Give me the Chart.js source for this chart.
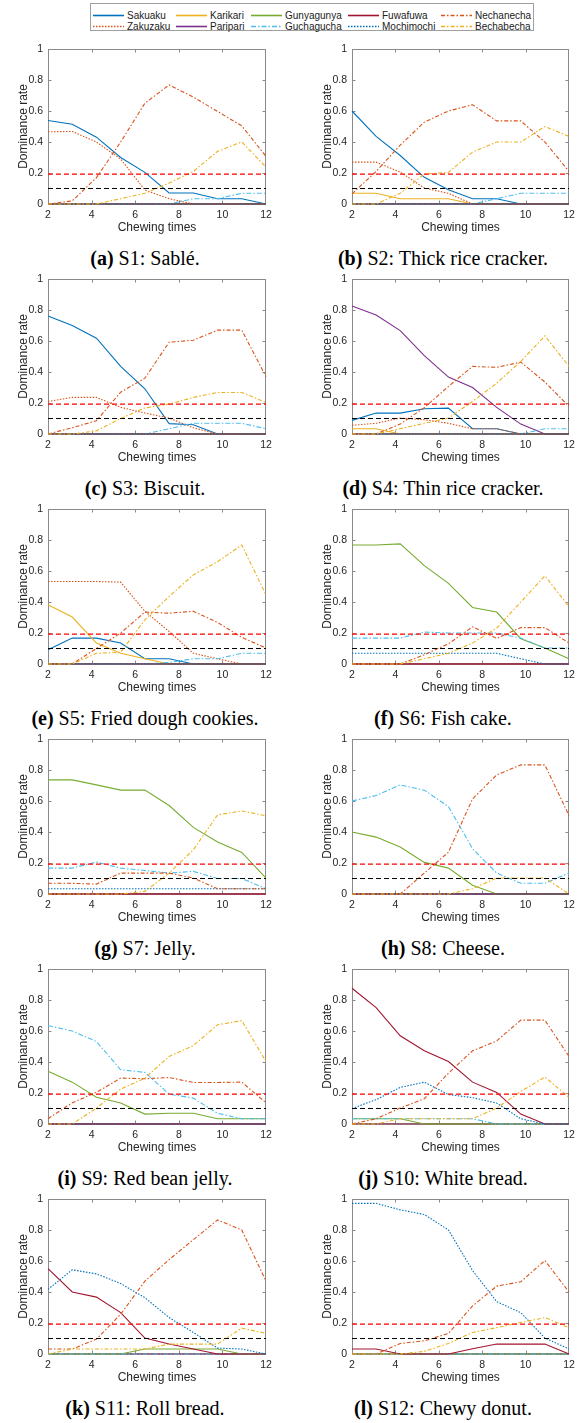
<!DOCTYPE html>
<html><head><meta charset="utf-8">
<script src="https://cdn.jsdelivr.net/npm/chart.js@4.4.1/dist/chart.umd.min.js"></script>
<style>
html,body{margin:0;padding:0;background:#fff;}
body{width:581px;height:1423px;position:relative;overflow:hidden;font-family:"Liberation Sans",Arial,sans-serif;}
canvas{position:absolute;}
.cap{position:absolute;width:300px;text-align:center;font-family:"Liberation Serif","Times New Roman",serif;font-size:20px;line-height:22px;color:#000;white-space:nowrap;}
#legend{position:absolute;left:90px;top:3px;width:444px;height:28px;border:1px solid #a0a0a0;box-sizing:border-box;background:#fff;}
.li{position:absolute;height:11px;font-size:10px;line-height:11px;color:#222;white-space:nowrap;}
.li svg{position:absolute;left:0;top:0;}
.li span{position:absolute;left:34px;top:0;}
</style></head><body>
<div id="legend"></div>
<script>
// ---------- data ----------
const XS = [2, 3.111, 4.222, 5.333, 6.444, 7.556, 8.667, 9.778, 10.889, 12];
const X_TICKS = [2, 4, 6, 8, 10, 12];
const Y_TICKS = [0, 0.2, 0.4, 0.6, 0.8, 1];
const SERIES = ['Sakuaku','Zakuzaku','Karikari','Paripari','Gunyagunya','Guchagucha','Fuwafuwa','Mochimochi','Nechanecha','Bechabecha'];
const CHANCE_RED = 0.193;
const CHANCE_BLACK = 0.1;
const ZERO = [0,0,0,0,0,0,0,0,0,0];
const CAP_LETTERS = ['(a)','(b)','(c)','(d)','(e)','(f)','(g)','(h)','(i)','(j)','(k)','(l)'];
const CAP_TEXTS = ['S1: Sablé.','S2: Thick rice cracker.','S3: Biscuit.','S4: Thin rice cracker.','S5: Fried dough cookies.','S6: Fish cake.','S7: Jelly.','S8: Cheese.','S9: Red bean jelly.','S10: White bread.','S11: Roll bread.','S12: Chewy donut.'];

const S1 = {
  Sakuaku:    [0.539,0.515,0.431,0.30,0.204,0.071,0.071,0.034,0.034,0],
  Zakuzaku:   [0.466,0.468,0.40,0.29,0.09,0.034,0,0,0,0],
  Guchagucha: [0,0,0,0,0,0,0.034,0.034,0.069,0.069],
  Nechanecha: [0,0.02,0.17,0.40,0.65,0.768,0.69,0.597,0.504,0.307],
  Bechabecha: [0,0,0,0.034,0.069,0.135,0.21,0.34,0.40,0.238]
};
const S2 = {
  Sakuaku:    [0.60,0.436,0.313,0.172,0.092,0.034,0.034,0,0,0],
  Zakuzaku:   [0.27,0.27,0.206,0.103,0.069,0,0,0,0,0],
  Karikari:   [0.069,0.069,0.034,0.034,0.034,0,0,0,0,0],
  Guchagucha: [0,0,0,0,0,0,0.034,0.069,0.069,0.069],
  Nechanecha: [0.065,0.21,0.38,0.528,0.60,0.64,0.536,0.536,0.40,0.21],
  Bechabecha: [0,0,0.069,0.193,0.204,0.335,0.40,0.40,0.50,0.436]
};
const S3 = {
  Sakuaku:    [0.762,0.70,0.618,0.436,0.292,0.067,0.06,0,0,0],
  Zakuzaku:   [0.21,0.236,0.236,0.172,0.135,0.103,0.04,0,0,0],
  Guchagucha: [0,0,0,0,0,0.034,0.069,0.069,0.069,0.034],
  Nechanecha: [0,0.04,0.086,0.27,0.36,0.592,0.605,0.67,0.67,0.37],
  Bechabecha: [0,0,0.02,0.10,0.168,0.193,0.236,0.268,0.268,0.204]
};
const S4 = {
  Sakuaku:    [0.088,0.135,0.135,0.163,0.167,0.034,0.034,0,0,0],
  Zakuzaku:   [0.056,0.069,0.103,0.092,0.069,0.034,0.034,0,0,0],
  Karikari:   [0.034,0.034,0,0,0,0,0,0,0,0],
  Paripari:   [0.826,0.768,0.667,0.506,0.367,0.30,0.172,0.064,0,0],
  Guchagucha: [0,0,0,0,0,0,0,0,0.034,0.034],
  Nechanecha: [0,0,0.064,0.17,0.307,0.436,0.43,0.464,0.335,0.178],
  Bechabecha: [0,0,0.034,0.069,0.103,0.21,0.328,0.468,0.633,0.436]
};
const S5 = {
  Sakuaku:    [0.092,0.167,0.167,0.135,0.034,0.034,0,0,0,0],
  Zakuzaku:   [0.532,0.532,0.532,0.528,0.34,0.21,0.069,0.034,0,0],
  Karikari:   [0.382,0.303,0.135,0.069,0.034,0,0,0,0,0],
  Guchagucha: [0,0,0,0,0,0.01,0.034,0.034,0.069,0.069],
  Nechanecha: [0,0,0.10,0.20,0.335,0.328,0.34,0.268,0.172,0.103],
  Bechabecha: [0,0,0.069,0.075,0.285,0.436,0.575,0.66,0.768,0.446]
};
const S6 = {
  Gunyagunya: [0.768,0.768,0.775,0.635,0.52,0.365,0.335,0.163,0.103,0.034],
  Guchagucha: [0.167,0.167,0.167,0.206,0.20,0.20,0.20,0.167,0.103,0.103],
  Mochimochi: [0.069,0.069,0.069,0.069,0.069,0.069,0.069,0.034,0,0],
  Nechanecha: [0,0,0,0.06,0.13,0.24,0.165,0.235,0.235,0.135],
  Bechabecha: [0,0,0,0.034,0.069,0.135,0.232,0.40,0.569,0.37]
};
const S7 = {
  Gunyagunya: [0.736,0.736,0.704,0.67,0.67,0.571,0.43,0.335,0.268,0.103],
  Guchagucha: [0.167,0.167,0.206,0.167,0.152,0.135,0.146,0.10,0.10,0.034],
  Mochimochi: [0.034,0.034,0.034,0.034,0.034,0.034,0.034,0.034,0.034,0.034],
  Nechanecha: [0.069,0.069,0.064,0.135,0.135,0.135,0.103,0.034,0.034,0.034],
  Bechabecha: [0,0,0,0,0.017,0.135,0.285,0.51,0.536,0.504]
};
const S8 = {
  Gunyagunya: [0.40,0.367,0.303,0.204,0.167,0.056,0,0,0,0],
  Guchagucha: [0.60,0.635,0.704,0.67,0.564,0.292,0.135,0.069,0.069,0.135],
  Nechanecha: [0,0,0,0.135,0.27,0.614,0.768,0.833,0.833,0.506],
  Bechabecha: [0,0,0,0,0,0.034,0.103,0.103,0.103,0]
};
const S9 = {
  Gunyagunya: [0.34,0.27,0.172,0.135,0.064,0.069,0.069,0.034,0.034,0.034],
  Guchagucha: [0.635,0.60,0.532,0.35,0.333,0.193,0.167,0.069,0.034,0.034],
  Nechanecha: [0.034,0.137,0.204,0.296,0.292,0.30,0.268,0.268,0.27,0.137],
  Bechabecha: [0,0,0.103,0.225,0.296,0.436,0.506,0.64,0.667,0.403]
};
const S10 = {
  Gunyagunya: [0.034,0.034,0.034,0,0,0,0,0,0,0],
  Guchagucha: [0.034,0.034,0.034,0.034,0.034,0.034,0,0,0,0],
  Fuwafuwa:   [0.876,0.751,0.569,0.472,0.403,0.27,0.204,0.064,0,0],
  Mochimochi: [0.10,0.157,0.236,0.27,0.19,0.17,0.135,0.034,0,0],
  Nechanecha: [0,0.034,0.103,0.163,0.328,0.472,0.536,0.67,0.67,0.436],
  Bechabecha: [0,0,0.034,0.034,0.034,0.034,0.103,0.21,0.303,0.172]
};
const S11 = {
  Gunyagunya: [0,0,0,0,0.032,0.032,0.032,0.032,0,0],
  Fuwafuwa:   [0.551,0.40,0.367,0.267,0.103,0.064,0.032,0,0,0],
  Mochimochi: [0.417,0.543,0.517,0.455,0.363,0.235,0.139,0.038,0.032,0],
  Nechanecha: [0.032,0.032,0.096,0.256,0.47,0.609,0.737,0.865,0.80,0.47],
  Bechabecha: [0,0.032,0.032,0.032,0.032,0.064,0.064,0.064,0.167,0.133]
};
const S12 = {
  Fuwafuwa:   [0.032,0.032,0,0,0,0.034,0.064,0.064,0.064,0],
  Mochimochi: [0.972,0.972,0.93,0.90,0.80,0.538,0.338,0.267,0.103,0.032],
  Nechanecha: [0,0,0.068,0.085,0.133,0.31,0.438,0.466,0.603,0.40],
  Bechabecha: [0,0,0,0.017,0.068,0.139,0.17,0.203,0.235,0.17]
};
const SAMPLES = [S1,S2,S3,S4,S5,S6,S7,S8,S9,S10,S11,S12];

// ---------- styles ----------
const COLORS = ['#0072BD','#D95319','#EDB120','#7E2F8E','#77AC30','#4DBEEE','#A2142F','#0072BD','#D95319','#EDB120'];
const DASHES = [[],[1.5,1.5],[],[],[],[5,2,1.5,2],[],[1.5,1.5],[4,2,1.5,2],[4,2,1.5,2]];
const FONT = '"Liberation Sans", Arial, Helvetica, sans-serif';
const AXIS_COLOR = '#8a8a8a';
const TEXT_COLOR = '#262626';

// ---------- legend ----------
const LEG_X = [2, 85, 160, 257, 350];
const LEG_Y = [6, 17];
const legend = document.getElementById('legend');
SERIES.forEach((name, i) => {
  const col = Math.floor(i / 2), row = i % 2;
  const d = document.createElement('div');
  d.className = 'li';
  d.style.left = LEG_X[col] + 'px';
  d.style.top = LEG_Y[row] + 'px';
  const dash = DASHES[i].length ? DASHES[i].join(',') : 'none';
  d.innerHTML = '<svg width="32" height="11"><line x1="0" y1="5.5" x2="31" y2="5.5" stroke="' + COLORS[i] +
    '" stroke-width="1.6" stroke-dasharray="' + dash + '"/></svg><span>' + name + '</span>';
  legend.appendChild(d);
});

// ---------- plugin: MATLAB-like box + inward ticks ----------
const boxPlugin = {
  id: 'mbox',
  beforeDatasetsDraw(chart) {
    const {ctx, chartArea: a, scales} = chart;
    const L = Math.round(a.left) + 0.5, R = Math.round(a.right) - 0.5;
    const T = Math.round(a.top) + 0.5, B = Math.round(a.bottom) - 0.5;
    ctx.save();
    ctx.strokeStyle = AXIS_COLOR;
    ctx.lineWidth = 1;
    ctx.strokeRect(L, T, R - L, B - T);
    ctx.beginPath();
    scales.x.ticks.forEach(t => {
      const px = Math.round(scales.x.getPixelForValue(t.value)) + 0.5;
      if (px <= L + 1 || px >= R - 1) return;
      ctx.moveTo(px, B); ctx.lineTo(px, B - 3);
      ctx.moveTo(px, T); ctx.lineTo(px, T + 3);
    });
    scales.y.ticks.forEach(t => {
      const py = Math.round(scales.y.getPixelForValue(t.value)) + 0.5;
      if (py <= T + 1 || py >= B - 1) return;
      ctx.moveTo(L, py); ctx.lineTo(L + 3, py);
      ctx.moveTo(R, py); ctx.lineTo(R - 3, py);
    });
    ctx.stroke();
    ctx.restore();
  }
};

// ---------- charts ----------
SAMPLES.forEach((sample, idx) => {
  const row = Math.floor(idx / 2), col = idx % 2;
  const top = 35 + 230 * row;
  const left = col === 0 ? 0 : 304;
  const width = col === 0 ? 290 : 277;
  const padRight = col === 0 ? 24 : 12;
  const cv = document.createElement('canvas');
  cv.width = width; cv.height = 204;
  cv.style.left = left + 'px'; cv.style.top = top + 'px';
  cv.style.width = width + 'px'; cv.style.height = '204px';
  document.body.appendChild(cv);

  const datasets = SERIES.map((name, i) => ({
    label: name,
    data: XS.map((x, k) => ({x: x, y: (sample[name] || ZERO)[k]})),
    borderColor: COLORS[i],
    borderDash: DASHES[i],
    borderWidth: 1.1,
    pointRadius: 0,
    fill: false,
    tension: 0,
    order: -i,
    clip: false
  }));
  datasets.push({label: 'chance1', data: [{x: XS[0], y: CHANCE_RED}, {x: XS[XS.length-1], y: CHANCE_RED}],
    borderColor: '#ff0000', borderDash: [5, 3], borderWidth: 1.2, pointRadius: 0, order: -20});
  datasets.push({label: 'chance2', data: [{x: XS[0], y: CHANCE_BLACK}, {x: XS[XS.length-1], y: CHANCE_BLACK}],
    borderColor: '#000000', borderDash: [5, 3], borderWidth: 1.2, pointRadius: 0, order: -21});

  new Chart(cv, {
    type: 'line',
    data: {datasets},
    options: {
      responsive: false, animation: false, devicePixelRatio: 1,
      layout: {padding: {left: 0, top: 14, right: padRight, bottom: 0}},
      plugins: {legend: {display: false}, tooltip: {enabled: false}, title: {display: false}},
      scales: {
        x: {
          type: 'linear', min: 2, max: 12,
          afterBuildTicks: s => { s.ticks = X_TICKS.map(v => ({value: v})); },
          afterFit: s => { s.height = 35; },
          grid: {display: false, drawTicks: false},
          border: {display: false},
          ticks: {color: TEXT_COLOR, font: {family: FONT, size: 10.5}, padding: 5, maxRotation: 0, autoSkip: false,
                  callback: v => String(v)},
          title: {display: true, text: 'Chewing times', color: TEXT_COLOR, font: {family: FONT, size: 12}, padding: {top: 0, bottom: 4}}
        },
        y: {
          type: 'linear', min: 0, max: 1,
          afterBuildTicks: s => { s.ticks = Y_TICKS.map(v => ({value: v})); },
          afterFit: s => { s.width = 48; },
          grid: {display: false, drawTicks: false},
          border: {display: false},
          ticks: {color: TEXT_COLOR, font: {family: FONT, size: 10.5}, padding: 5,
                  callback: v => String(Math.round(v * 10) / 10)},
          title: {display: true, text: 'Dominance rate', color: TEXT_COLOR, font: {family: FONT, size: 12}, padding: {top: 16, bottom: 0}}
        }
      }
    },
    plugins: [boxPlugin]
  });

  const cap = document.createElement('div');
  cap.className = 'cap';
  cap.style.left = (col === 0 ? 145 : 443) - 150 + 'px';
  cap.style.top = (top + 14 + 198) + 'px';
  cap.innerHTML = '<b>' + CAP_LETTERS[idx] + '</b> ' + CAP_TEXTS[idx];
  document.body.appendChild(cap);
});
</script>
</body></html>
